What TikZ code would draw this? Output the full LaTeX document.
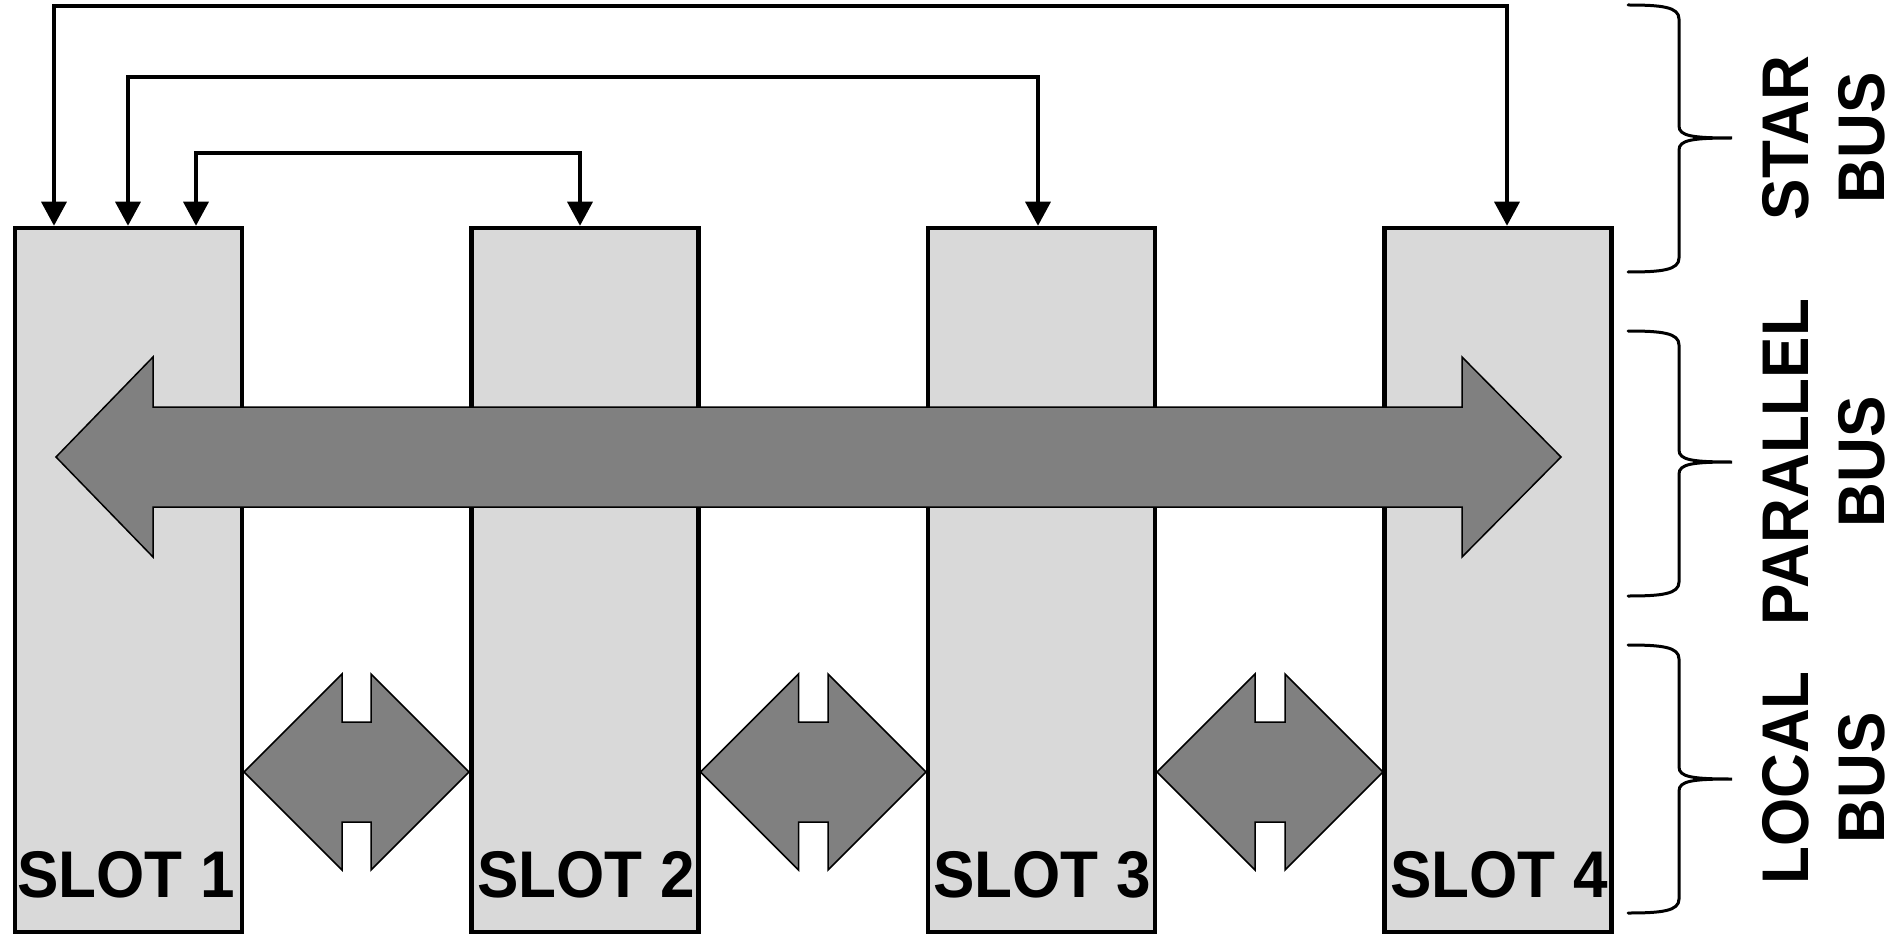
\documentclass[tikz,border=0pt]{standalone}
\usepackage{fontspec}
\setmainfont{Liberation Sans}
\newfontfamily\labfont[FakeStretch=0.94]{Liberation Sans}
\usetikzlibrary{arrows.meta,calc}
\definecolor{slotgray}{HTML}{D9D9D9}
\definecolor{busgray}{HTML}{808080}
\begin{document}
\begin{tikzpicture}[x=1pt,y=-1pt,
  slotbox/.style={draw=black,fill=slotgray,line width=4.5pt,minimum width=227pt,minimum height=704pt,inner sep=0pt},
  slotlabel/.style={font=\labfont\fontsize{66}{70}\selectfont\bfseries,inner sep=0pt,anchor=base},
  buslabel/.style={font=\labfont\fontsize{66}{76}\selectfont\bfseries,inner sep=0pt,align=center,rotate=90},
  starline/.style={draw=black,line width=3.5pt,{Triangle[width=25pt,length=24pt]}-{Triangle[width=25pt,length=24pt]}},
  busarrow/.style={draw=black,fill=busgray,line width=1.5pt,line join=miter},
  bracket/.style={draw=black,line width=3pt,line cap=round}]
\useasboundingbox (0,0) rectangle (1893,936);
\fill[white] (0,0) rectangle (1893,936);

% slots
\node[slotbox] (s1) at (128.5,580) {};
\node[slotbox] (s2) at (585,580) {};
\node[slotbox] (s3) at (1041.5,580) {};
\node[slotbox] (s4) at (1498,580) {};

% slot labels
\node[slotlabel] (t1) at (126,897) {SLOT 1};
\node[slotlabel] (t2) at (586,897) {SLOT 2};
\node[slotlabel] (t3) at (1042,897) {SLOT 3};
\node[slotlabel] (t4) at (1499,897) {SLOT 4};

% star bus connectors
\coordinate (a1) at (54,0);
\coordinate (h1) at (1507,6);
\coordinate (a2) at (128,0);
\coordinate (h2) at (1038,77);
\coordinate (a3) at (196,0);
\coordinate (h3) at (580,153);
\draw[starline] (a1 |- s1.north) |- (h1) -- (h1 |- s4.north);
\draw[starline] (a2 |- s1.north) |- (h2) -- (h2 |- s3.north);
\draw[starline] (a3 |- s1.north) |- (h3) -- (h3 |- s2.north);

% parallel bus arrow
\draw[busarrow] (56,457) -- (153,357) -- (153,407) -- (1462,407) -- (1462,357)
  -- (1561,457) -- (1462,557) -- (1462,507) -- (153,507) -- (153,557) -- cycle;

% local bus arrows
\foreach \L/\R in {244/469, 700.5/926, 1157/1383}{
  \pgfmathsetmacro{\nl}{\L+98}
  \pgfmathsetmacro{\nr}{\R-98}
  \pgfmathsetmacro{\hl}{772-(\nl-\L)}
  \pgfmathsetmacro{\hr}{772-(\R-\nr)}
  \pgfmathsetmacro{\bl}{772+(\nl-\L)}
  \pgfmathsetmacro{\br}{772+(\R-\nr)}
  \draw[busarrow] (\L,772) -- (\nl,\hl) -- (\nl,722) -- (\nr,722) -- (\nr,\hr)
    -- (\R,772) -- (\nr,\br) -- (\nr,822) -- (\nl,822) -- (\nl,\bl) -- cycle;
}

% braces
\foreach \t/\m/\b in {5/138/272, 331/462/596, 645/779/913}{
  \draw[bracket] (1628,\t) .. controls (1662,\t) and (1679,\t+2) .. (1679,\t+14)
    -- (1679,\m-12) .. controls (1679,\m-2) and (1692,\m) .. (1732,\m)
    .. controls (1692,\m) and (1679,\m+2) .. (1679,\m+12)
    -- (1679,\b-14) .. controls (1679,\b-2) and (1662,\b) .. (1628,\b);
}

% bus labels
\node[buslabel] (lstar) at (1824,138) {STAR\\BUS};
\node[buslabel] (lpar) at (1824,462) {PARALLEL\\BUS};
\node[buslabel] (lloc) at (1824,778) {LOCAL\\BUS};
\end{tikzpicture}
\end{document}
